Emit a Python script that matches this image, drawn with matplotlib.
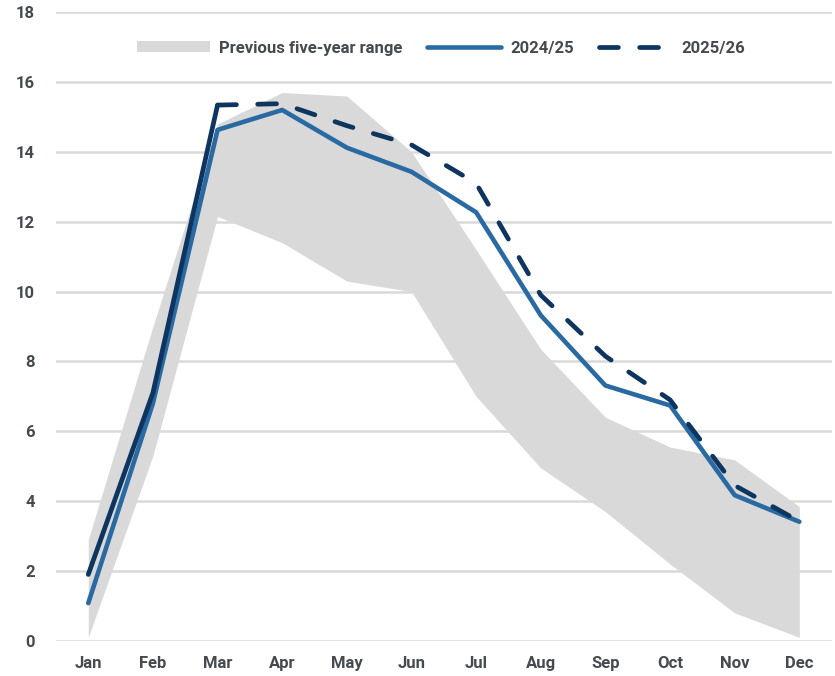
import matplotlib
matplotlib.use("Agg")
import matplotlib.pyplot as plt
import numpy as np

plt.rcParams['font.family'] = ['Roboto', 'DejaVu Sans']
plt.rcParams['font.weight'] = 'bold'

months = ['Jan', 'Feb', 'Mar', 'Apr', 'May', 'Jun', 'Jul', 'Aug', 'Sep', 'Oct', 'Nov', 'Dec']
range_low = [0.1, 5.3, 12.15, 11.4, 10.3, 10.0, 7.0, 4.95, 3.7, 2.2, 0.8, 0.1]
range_high = [2.9, 9.0, 14.8, 15.7, 15.6, 14.0, 11.2, 8.35, 6.4, 5.55, 5.18, 3.84]
s2425 = [1.08, 6.8, 14.63, 15.2, 14.12, 13.43, 12.27, 9.32, 7.31, 6.74, 4.17, 3.41]
s2526 = [1.9, 7.1, 15.34, 15.38, 14.75, 14.2, 13.1, 9.9, 8.15, 6.9, 4.45, 3.42]
n_actual = 3  # 2025/26 is solid up to Mar, dashed after

gray = '#D9D9D9'
blue = '#2A6AA2'
navy = '#0E3460'
txt = '#454A50'

fig = plt.figure(figsize=(8.35, 6.76), dpi=100)
ax = fig.add_axes([0.067, 0.052, 0.929, 0.93])

x = np.arange(len(months))
ax.fill_between(x, range_low, range_high, color=gray, lw=0, label='Previous five-year range', zorder=1)
ax.plot(x, s2425, color=blue, lw=3.3, solid_capstyle='round', solid_joinstyle='round', label='2024/25', zorder=3)
ax.plot(x[:n_actual], s2526[:n_actual], color=navy, lw=3.4, solid_capstyle='round', solid_joinstyle='round', zorder=4)
ax.plot(x[n_actual - 1:], s2526[n_actual - 1:], color=navy, lw=3.4, dashes=(4, 4.5),
        dash_capstyle='round', label='2025/26', zorder=4)

ax.set_xlim(-0.5, 11.5)
ax.set_ylim(0, 18)
ax.set_yticks(range(0, 19, 2))
ax.set_xticks(x)
ax.set_xticklabels(months)
ax.grid(axis='y', color=gray, lw=1.8, zorder=0)
ax.set_axisbelow(True)
for s in ax.spines.values():
    s.set_visible(False)
ax.tick_params(length=0, labelsize=12, colors=txt)
ax.tick_params(axis='y', pad=15)
ax.tick_params(axis='x', pad=11)

leg = ax.legend(loc='center', bbox_to_anchor=(0.496, 0.943), ncol=3, frameon=False,
                fontsize=12, handlelength=4.4, handleheight=0.6, columnspacing=1.5, handletextpad=0.55)
for t in leg.get_texts():
    t.set_color(txt)

fig.savefig('out.png', dpi=100)
